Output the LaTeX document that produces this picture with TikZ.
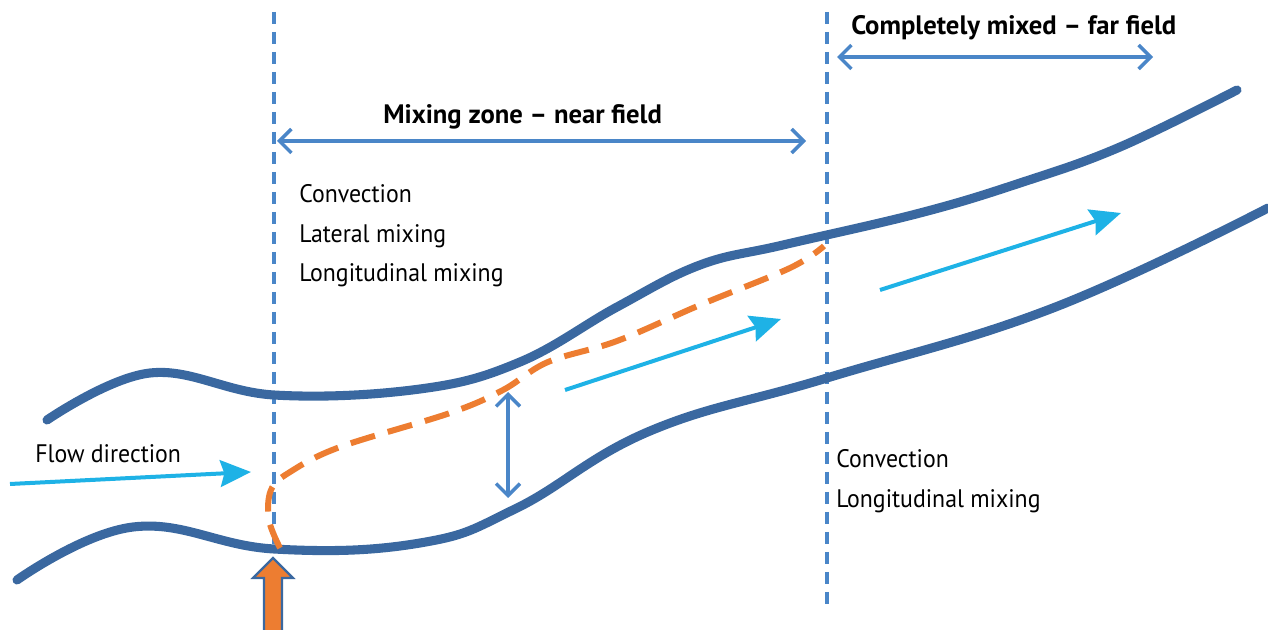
\documentclass[tikz,border=0pt]{standalone}
\usepackage{fontspec}
\setmainfont[FakeStretch=0.94]{PT Sans}
\newfontfamily\ttlfont[FakeStretch=1.0]{PT Sans}
\usetikzlibrary{arrows.meta}
\definecolor{bank}{RGB}{58,104,160}
\definecolor{guide}{RGB}{74,134,200}
\definecolor{flow}{RGB}{30,178,230}
\definecolor{plume}{RGB}{237,125,49}
\tikzset{
  bankline/.style={draw=bank,line width=6.8pt,line cap=round},
  guideline/.style={draw=guide,line width=2.6pt,dash pattern=on 9pt off 6pt},
  span/.style={draw=guide,line width=2.6pt,{Straight Barb[length=9pt,width=18pt]}-{Straight Barb[length=9pt,width=18pt]}},
  flowarrow/.style={draw=flow,line width=3pt,-{Stealth[length=23pt,width=20pt,inset=3pt]},fill=flow},
  plumeline/.style={draw=plume,line width=4.5pt,dash pattern=on 19pt off 10pt},
  lbl/.style={font=\fontsize{19}{23}\selectfont,inner sep=0pt,anchor=base west,text=black},
  ttl/.style={font=\ttlfont\bfseries\fontsize{20}{24}\selectfont,inner sep=0pt,anchor=base west,text=black},
}
\begin{document}
\begin{tikzpicture}[x=0.75pt,y=-0.75pt]
\useasboundingbox (0,0) rectangle (1268,630);
% guide lines
\coordinate (g1t) at (274,12);
\coordinate (g1b) at (274,548);
\coordinate (g2t) at (827,12);
\coordinate (g2b) at (827,605);
\draw[guideline] (g1t) -- (g1b);
\draw[guideline] (g2t) -- (g2b);
% banks
\draw[bankline] plot[smooth,tension=0.65] coordinates {(47,420) (150,373) (274,395) (420,389) (520,362) (617,307) (700,265) (783,245) (920,213) (1020,183) (1120,147) (1237,90)};
\draw[bankline] plot[smooth,tension=0.7] coordinates {(17,580) (133,527) (274,549) (420,543) (517,508) (650,431) (827,378) (1053,308) (1268,208)};
% plume
\draw[plumeline,line cap=butt] plot[smooth,tension=0.6] coordinates {(280,548) (269,520) (271,490) (290,472) (340,447) (450,413) (503,390) (548,362) (617,341) (700,305) (790,268) (824,246)};
% source arrow
\draw[draw=bank,fill=plume,line width=1.6pt] (264,632) -- (264,578) -- (253,578) -- (273,558) -- (293,578) -- (282,578) -- (282,632);
% spans
\coordinate (s1a) at (277,141);
\coordinate (s1b) at (806,141);
\coordinate (s2a) at (837,57);
\coordinate (s2b) at (1153,57);
\coordinate (s3a) at (508,392);
\coordinate (s3b) at (508,498);
\draw[span] (s1a) -- (s1b);
\draw[span] (s2a) -- (s2b);
\draw[span] (s3a) -- (s3b);
% flow arrows
\coordinate (f1a) at (10,484);
\coordinate (f1b) at (251,472);
\coordinate (f2a) at (565,390);
\coordinate (f2b) at (781,319);
\coordinate (f3a) at (880,290);
\coordinate (f3b) at (1121,213);
\draw[flowarrow] (f1a) -- (f1b);
\draw[flowarrow] (f2a) -- (f2b);
\draw[flowarrow] (f3a) -- (f3b);
% labels
\node[ttl] (tnear) at (383,124) {Mixing zone – near field};
\node[ttl] (tfar) at (851,35) {Completely mixed – far field};
\node[lbl] (l1) at (299,203) {Convection};
\node[lbl] (l2) at (299,243) {Lateral mixing};
\node[lbl] (l3) at (299,282) {Longitudinal mixing};
\node[lbl] (fd) at (35,463) {Flow direction};
\node[lbl] (r1) at (836,468) {Convection};
\node[lbl] (r2) at (836,508) {Longitudinal mixing};
\end{tikzpicture}
\end{document}
